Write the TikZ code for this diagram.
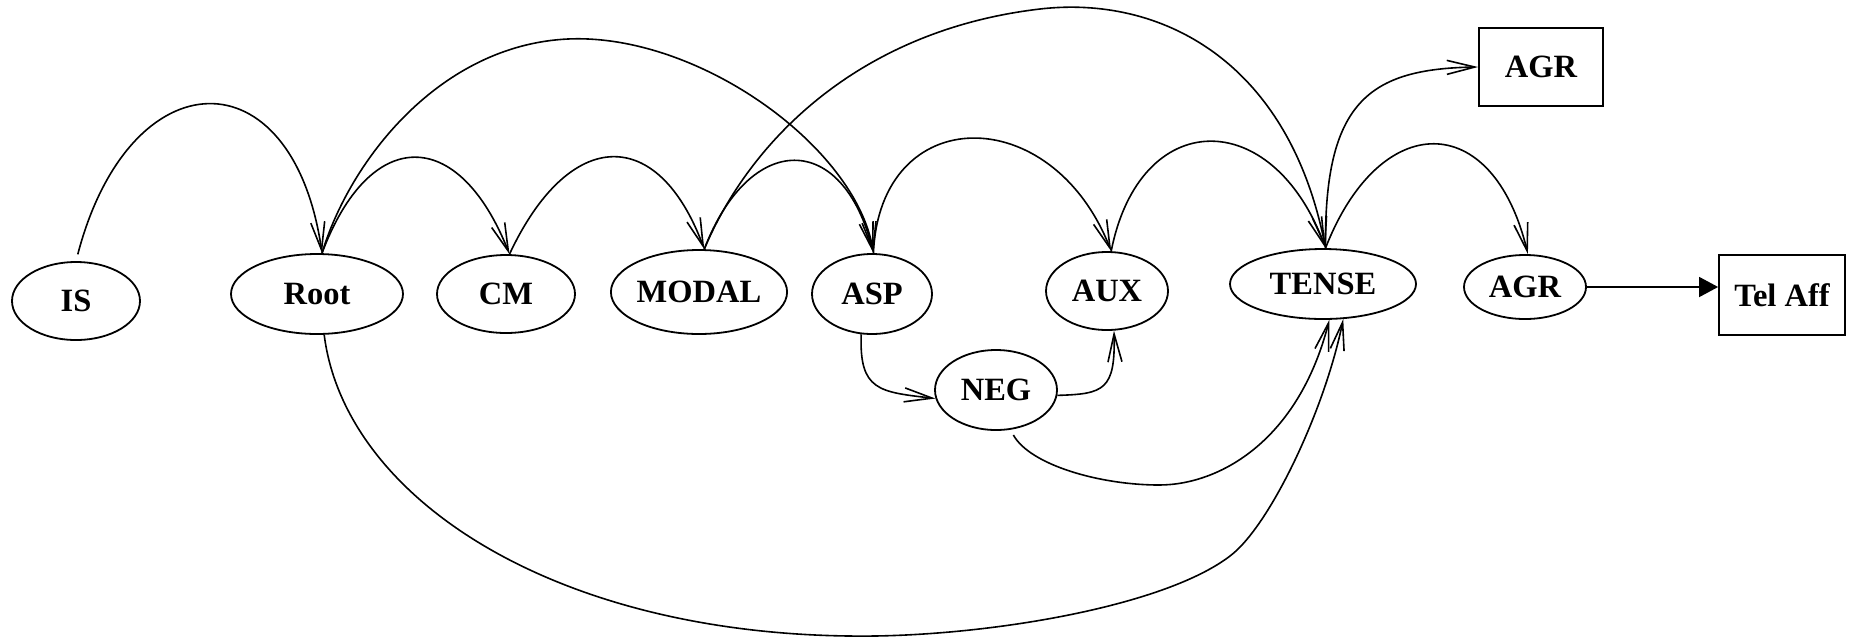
\documentclass[tikz,border=0pt]{standalone}
\usepackage{fontspec}
\setmainfont{Liberation Serif}
\usetikzlibrary{shapes.geometric,arrows.meta,bending}
\begin{document}
\begin{tikzpicture}[x=1pt,y=-1pt,
  lbl/.style={font=\fontsize{32.5}{38}\selectfont\bfseries, line width=1.8pt, inner sep=0pt},
  oval/.style={lbl, draw, ellipse},
  box/.style={lbl, draw, rectangle},
  edge/.style={line width=1.6pt, -{Straight Barb[length=28pt,width=14pt,line width=1.6pt]}},
  solidedge/.style={line width=1.6pt, -{Triangle[length=19pt,width=20pt]}}]
\useasboundingbox (0,0) rectangle (1854,638);

% morpheme slots
\node[oval, minimum width=128pt, minimum height=78pt] (IS)    at (76,301)  {IS};
\node[oval, minimum width=172pt, minimum height=80pt] (Root)  at (317,294) {Root};
\node[oval, minimum width=138pt, minimum height=78pt] (CM)    at (506,294) {CM};
\node[oval, minimum width=162pt, minimum height=84pt] (MODAL) at (699,292) {MODAL};
\node[oval, minimum width=120pt, minimum height=80pt] (ASP)   at (872,294) {ASP};
\node[oval, minimum width=122pt, minimum height=78pt] (AUX)   at (1107,291) {AUX};
\node[oval, minimum width=186pt, minimum height=70pt] (TENSE) at (1323,284) {TENSE};
\node[oval, minimum width=122pt, minimum height=64pt] (AGR)   at (1525,287) {AGR};
\node[oval, minimum width=122pt, minimum height=80pt] (NEG)   at (996,390) {NEG};
\node[box,  minimum width=124pt, minimum height=78pt] (AGRbox) at (1541,67) {AGR};
\node[box,  minimum width=126pt, minimum height=80pt] (TelAff) at (1782,295) {Tel Aff};

% arcs above the row
\draw[edge, shorten <=7pt] (IS.north) .. controls (130,55) and (295,52) .. (Root.83);
\draw[edge] (Root.83) .. controls (370,125) and (460,125) .. (CM.85);
\draw[edge] (Root.83) .. controls (350,160) and (440,45) .. (568,39)
                      .. controls (700,33) and (860,150) .. (ASP.88);
\draw[edge] (CM.85) .. controls (570,125) and (660,125) .. (MODAL.83);
\draw[edge] (MODAL.83) .. controls (750,130) and (845,130) .. (ASP.88);
\draw[edge] (MODAL.83) .. controls (750,140) and (860,30) .. (1040,9)
                       .. controls (1160,-5) and (1290,60) .. (TENSE.86);
\draw[edge] (ASP.88) .. controls (880,100) and (1055,100) .. (AUX.84);
\draw[edge] (AUX.84) .. controls (1140,105) and (1275,105) .. (TENSE.86);
\draw[edge] (TENSE.86) .. controls (1380,108) and (1495,108) .. (AGR.85);
\draw[edge] (TENSE.86) .. controls (1324,100) and (1370,68) .. (AGRbox.west);

% paths below the row
\draw[edge] (ASP.255) .. controls (859,392) and (880,392) .. (NEG.188);
\draw[edge] (NEG.355) .. controls (1105,394) and (1116,390) .. (AUX.280);
\draw[edge, shorten <=6pt] (NEG.290) .. controls (1030,465) and (1100,485) .. (1159,485)
                      .. controls (1220,485) and (1300,440) .. (TENSE.280);
\draw[edge] (Root.280) .. controls (345,500) and (560,640) .. (875,636)
                       .. controls (1000,634) and (1166,605) .. (1230,556)
                       .. controls (1270,526) and (1326,408) .. (TENSE.300);

% suffix
\draw[solidedge] (AGR.east) -- (AGR.east -| TelAff.west);
\end{tikzpicture}
\end{document}
